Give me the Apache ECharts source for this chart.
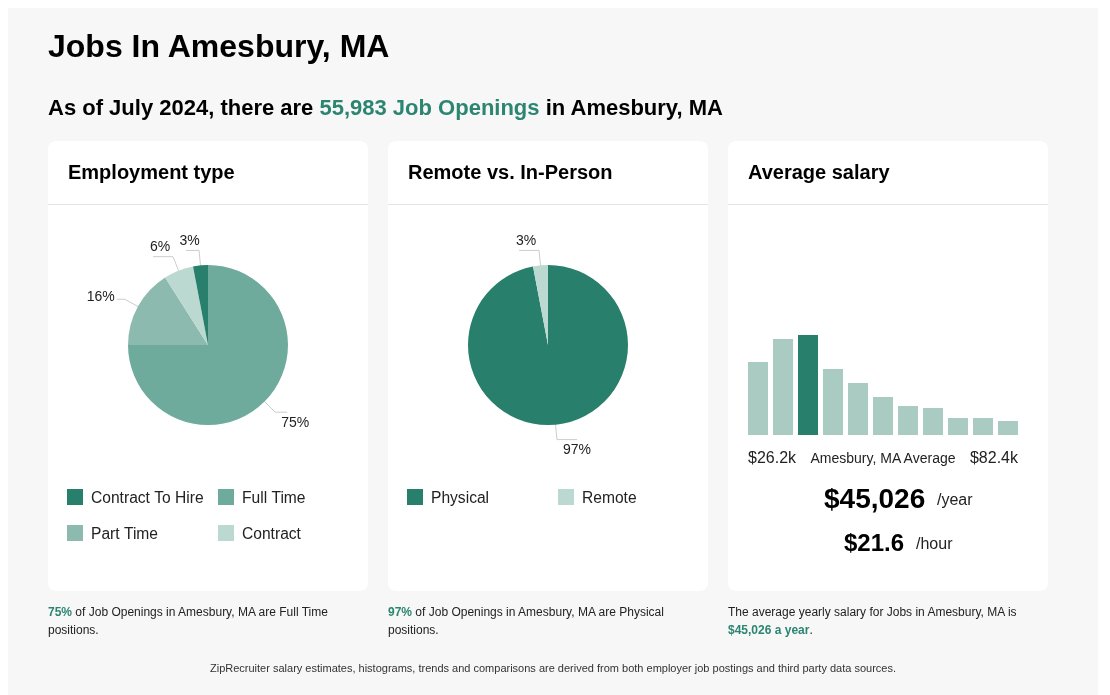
<!DOCTYPE html>
<html>
<head>
<meta charset="utf-8">
<script src="https://cdn.jsdelivr.net/npm/echarts@6/dist/echarts.min.js"></script>
<style>
html,body{margin:0;padding:0;background:#fff;width:1110px;height:695px;overflow:hidden;font-family:"Liberation Sans",Arial,Helvetica,sans-serif;}
#page{position:absolute;left:8px;top:8px;width:1090px;height:687px;background:#f7f7f7;z-index:0;}
.card{position:absolute;top:141px;width:320px;height:450px;background:#fff;border-radius:8px;z-index:1;}
.card .hd{position:absolute;left:0;top:0;width:320px;height:63px;border-bottom:1px solid #e4e4e4;}
.t{position:absolute;white-space:nowrap;color:#000;z-index:3;}
.g{color:#2b8571;}
#chart{position:absolute;left:0;top:0;width:1110px;height:695px;z-index:2;}
</style>
</head>
<body>
<div id="page"></div>
<div class="card" style="left:48px"><div class="hd"></div></div>
<div class="card" style="left:388px"><div class="hd"></div></div>
<div class="card" style="left:728px"><div class="hd"></div></div>

<div class="t" style="left:48px;top:25.5px;font-size:32px;line-height:40px;font-weight:bold;">Jobs In Amesbury, MA</div>
<div class="t" style="left:48px;top:92.5px;font-size:22px;line-height:30px;font-weight:bold;">As of July 2024, there are <span class="g">55,983 Job Openings</span> in Amesbury, MA</div>

<div class="t" style="left:68px;top:159px;font-size:20px;line-height:26px;font-weight:bold;">Employment type</div>
<div class="t" style="left:408px;top:159px;font-size:20px;line-height:26px;font-weight:bold;">Remote vs. In-Person</div>
<div class="t" style="left:748px;top:159px;font-size:20px;line-height:26px;font-weight:bold;">Average salary</div>

<div class="t" style="left:748px;top:448px;font-size:16px;line-height:20px;color:#222;">$26.2k</div>
<div class="t" style="left:783px;width:200px;text-align:center;top:448px;font-size:14px;line-height:20px;color:#222;">Amesbury, MA Average</div>
<div class="t" style="left:918px;width:100px;text-align:right;top:448px;font-size:16px;line-height:20px;color:#222;">$82.4k</div>

<div class="t" style="left:824px;top:483px;font-size:28px;line-height:32px;font-weight:bold;">$45,026</div>
<div class="t" style="left:937px;top:490px;font-size:16px;line-height:20px;color:#222;">/year</div>
<div class="t" style="left:844px;top:529px;font-size:24px;line-height:28px;font-weight:bold;">$21.6</div>
<div class="t" style="left:916px;top:534px;font-size:16px;line-height:20px;color:#222;">/hour</div>

<div class="t" style="left:48px;top:603px;font-size:12px;line-height:18px;color:#222;"><b class="g">75%</b> of Job Openings in Amesbury, MA are Full Time<br>positions.</div>
<div class="t" style="left:388px;top:603px;font-size:12px;line-height:18px;color:#222;"><b class="g">97%</b> of Job Openings in Amesbury, MA are Physical<br>positions.</div>
<div class="t" style="left:728px;top:603px;font-size:12px;line-height:18px;color:#222;">The average yearly salary for Jobs in Amesbury, MA is<br><b class="g">$45,026 a year</b>.</div>

<div class="t" style="left:53px;width:1000px;text-align:center;top:660px;font-size:11px;line-height:16px;color:#333;">ZipRecruiter salary estimates, histograms, trends and comparisons are derived from both employer job postings and third party data sources.</div>

<div id="chart"></div>
<script>
// ---- data ----
const employmentTypes = ['Full Time', 'Part Time', 'Contract', 'Contract To Hire'];
const employmentShares = [75, 16, 6, 3];
const employmentLegendOrder = ['Contract To Hire', 'Full Time', 'Part Time', 'Contract'];

const workplaceTypes = ['Physical', 'Remote'];
const workplaceShares = [97, 3];

const salaryBins = ['bin 1', 'bin 2', 'bin 3', 'bin 4', 'bin 5', 'bin 6', 'bin 7', 'bin 8', 'bin 9', 'bin 10', 'bin 11'];
const salaryCounts = [73, 96, 100, 66, 52, 38, 29, 27, 17, 17, 14];
const averageBinIndex = 2;

// ---- styles ----
const palette = {
  'Full Time': '#6fab9c',
  'Part Time': '#8dbaae',
  'Contract': '#bcd9d1',
  'Contract To Hire': '#287f6b',
  'Physical': '#287f6b',
  'Remote': '#bcd9d1'
};
const leaderTail = {
  'Full Time': 12, 'Part Time': 8, 'Contract': 20, 'Contract To Hire': 13,
  'Physical': 20, 'Remote': 20
};
const barLight = '#a9cbc2';
const barDark = '#287f6b';

const chart = echarts.init(document.getElementById('chart'), null, {renderer: 'canvas'});

const pieLabel = {
  formatter: p => p.value + '%',
  fontSize: 14,
  color: '#222',
  fontFamily: 'Liberation Sans'
};

// place each label next to its leader line, derived from the library's own line points
function placeLabel(params) {
  const pts = params.labelLinePoints;
  if (!pts || pts.length < 3) return {};
  const s = pts[0], c = pts[1], e = pts[2];
  const rise = c[1] - s[1], run = c[0] - s[0];
  const keep = pts.map(p => [p[0], p[1]]);
  if (rise < 0 && Math.abs(rise) > Math.abs(run) * 1.5) {
    return {x: (c[0] + e[0]) / 2 - 3, y: e[1] - 9.5, align: 'center', verticalAlign: 'middle', labelLinePoints: keep};
  }
  if (rise > 0 && Math.abs(rise) > Math.abs(run) * 0.5) {
    return {x: c[0] + 6, y: e[1] + 11, align: 'left', verticalAlign: 'middle', labelLinePoints: keep};
  }
  const leftward = e[0] < c[0];
  return {x: e[0] + (leftward ? -2 : 2), y: e[1] - 2.5, align: leftward ? 'right' : 'left', verticalAlign: 'middle', labelLinePoints: keep};
}

function pieItems(names, values) {
  return names.map((n, i) => ({
    name: n, value: values[i],
    itemStyle: {color: palette[n]},
    labelLine: {length: 15, length2: leaderTail[n]}
  }));
}

function legendAt(name, left, top) {
  return {
    data: [name], left: left, top: top, padding: 0,
    itemWidth: 16, itemHeight: 16, icon: 'rect', selectedMode: false,
    formatter: '{a|{name}}',
    textStyle: {
      color: '#222', fontFamily: 'Liberation Sans', fontSize: 15.6,
      rich: {a: {fontSize: 15.6, color: '#222', fontFamily: 'Liberation Sans', padding: [4, 0, 0, 3], lineHeight: 18}}
    }
  };
}

const option = {
  animation: false,
  legend: [
    legendAt(employmentLegendOrder[0], 67, 487),
    legendAt(employmentLegendOrder[1], 218, 487),
    legendAt(employmentLegendOrder[2], 67, 523),
    legendAt(employmentLegendOrder[3], 218, 523),
    legendAt(workplaceTypes[0], 407, 487),
    legendAt(workplaceTypes[1], 558, 487)
  ],
  grid: {left: 745.5, top: 335, width: 275, height: 100},
  xAxis: {type: 'category', data: salaryBins, show: false},
  yAxis: {type: 'value', min: 0, max: 100, show: false},
  series: [
    {
      type: 'pie', center: [208, 345], radius: 80, startAngle: 90, clockwise: true,
      silent: true, avoidLabelOverlap: false,
      data: pieItems(employmentTypes, employmentShares),
      label: pieLabel,
      labelLine: {length: 15, length2: 12, lineStyle: {color: '#cccccc', width: 1}},
      labelLayout: placeLabel
    },
    {
      type: 'pie', center: [548, 345], radius: 80, startAngle: 90, clockwise: true,
      silent: true, avoidLabelOverlap: false,
      data: pieItems(workplaceTypes, workplaceShares),
      label: pieLabel,
      labelLine: {length: 15, length2: 12, lineStyle: {color: '#cccccc', width: 1}},
      labelLayout: placeLabel
    },
    {
      type: 'bar', barWidth: 20, silent: true,
      data: salaryCounts.map((v, i) => ({value: v, itemStyle: {color: i === averageBinIndex ? barDark : barLight}}))
    }
  ]
};
chart.setOption(option);
</script>
</body>
</html>
